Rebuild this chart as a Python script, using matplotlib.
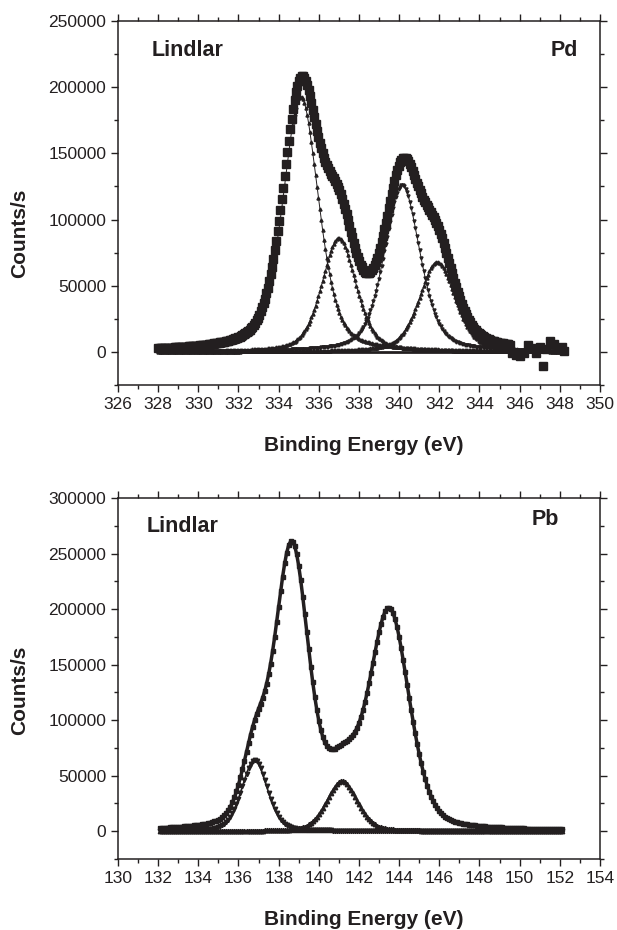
import numpy as np
import matplotlib
matplotlib.use("Agg")
import matplotlib.pyplot as plt
from matplotlib.ticker import MultipleLocator

plt.rcParams['font.family'] = ['Liberation Sans', 'DejaVu Sans']

# Pd 3d fit components (binding energy eV, peak counts/s, FWHM eV)
pd_center = [335.1, 337.0, 340.15, 341.9]
pd_height = [193000, 86000, 126000, 68000]
pd_fwhm = [2.1, 2.0, 2.1, 2.1]
pd_lmix = 0.42
pd_markers = ['^', '^', 'v', '^']
# noisy high-BE end of the measured Pd spectrum
pd_tail_be = [345.6, 345.8, 346.0, 346.2, 346.4, 346.6, 346.8, 347.0, 347.15, 347.3, 347.5, 347.7, 347.9, 348.1, 348.2]
pd_tail_counts = [-1000, -2500, -3000, -1000, 5000, 3000, -500, 4000, -11000, 2000, 8500, 6000, 3000, 4000, 500]

# Pb 4f fit components
pb_center = [138.65, 143.5, 136.8, 141.15]
pb_height = [253000, 196000, 64000, 45000]
pb_fwhm = [2.0, 2.35, 1.5, 1.8]
pb_lmix = 0.3
pb_shown = [False, False, True, True]
pb_markers = ['', '', 'v', '^']

INK = '#231f20'


def pvoigt(x, c, h, w, mix):
    r = (x - c) / (w / 2.0)
    return h * ((1 - mix) * np.exp(-np.log(2) * r ** 2) + mix / (1 + r ** 2))


def style_axes(ax, xlim, ylim, ymax_tick):
    ax.set_xlim(*xlim)
    ax.set_ylim(*ylim)
    ax.xaxis.set_major_locator(MultipleLocator(2))
    ax.xaxis.set_minor_locator(MultipleLocator(1))
    ax.set_yticks(np.arange(0, ymax_tick + 1, 50000))
    ax.yaxis.set_minor_locator(MultipleLocator(25000))
    ax.tick_params(which='both', direction='out', top=True, right=True,
                   labelsize=12.5, colors=INK, width=1.0)
    ax.tick_params(which='major', length=5)
    ax.tick_params(which='minor', length=3)
    for s in ax.spines.values():
        s.set_linewidth(1.1)
        s.set_color(INK)


fig = plt.figure(figsize=(6.17, 9.30), dpi=100)
ax1 = fig.add_axes([0.1912, 0.586, 0.7812, 0.3914])
ax2 = fig.add_axes([0.1912, 0.0763, 0.7812, 0.3882])

# --- Pd panel ---
be = np.arange(328.0, 348.03, 0.07)
comps = [pvoigt(be, c, h, w, pd_lmix) for c, h, w in zip(pd_center, pd_height, pd_fwhm)]
total = np.sum(comps, axis=0)
meas = be < 345.55
ax1.plot(be[meas], total[meas], 's', ms=5.8, color=INK, zorder=4)
ax1.plot(pd_tail_be, pd_tail_counts, 's', ms=5.8, color=INK, zorder=4)
for y, m in zip(comps, pd_markers):
    ax1.plot(be, y, '-', marker=m, ms=2.2, lw=0.7, color=INK, zorder=3)
ax1.plot(be, np.zeros_like(be), '-', lw=2.0, color=INK, zorder=2)
style_axes(ax1, (326, 350), (-25000, 250000), 250000)
ax1.text(0.07, 0.905, 'Lindlar', transform=ax1.transAxes, fontsize=15.5,
         fontweight='bold', color=INK)
ax1.text(0.955, 0.905, 'Pd', transform=ax1.transAxes, fontsize=15.5,
         fontweight='bold', color=INK, ha='right')

# --- Pb panel ---
be2 = np.arange(132.1, 152.15, 0.1)
comps2 = [pvoigt(be2, c, h, w, pb_lmix) for c, h, w in zip(pb_center, pb_height, pb_fwhm)]
total2 = np.sum(comps2, axis=0)
ax2.plot(be2, total2, '-', marker='s', ms=3.2, lw=2.5, color=INK, zorder=4)
for y, shown, m in zip(comps2, pb_shown, pb_markers):
    if shown:
        ax2.plot(be2, y, '-', marker=m, ms=3.2, lw=1.2, color=INK, zorder=3)
ax2.plot(be2, np.zeros_like(be2), '-', lw=2.5, color=INK, zorder=2)
style_axes(ax2, (130, 154), (-25000, 300000), 300000)
ax2.text(0.06, 0.905, 'Lindlar', transform=ax2.transAxes, fontsize=15.5,
         fontweight='bold', color=INK)
ax2.text(0.915, 0.925, 'Pb', transform=ax2.transAxes, fontsize=15.5,
         fontweight='bold', color=INK, ha='right')

# axis titles
fig.text(0.590, 0.5215, 'Binding Energy (eV)', ha='center', va='center',
         fontsize=15, fontweight='bold', color=INK)
fig.text(0.590, 0.0108, 'Binding Energy (eV)', ha='center', va='center',
         fontsize=15, fontweight='bold', color=INK)
fig.text(0.0324, 0.7495, 'Counts/s', ha='center', va='center', rotation=90,
         fontsize=15, fontweight='bold', color=INK)
fig.text(0.0324, 0.258, 'Counts/s', ha='center', va='center', rotation=90,
         fontsize=15, fontweight='bold', color=INK)

fig.savefig('out.png', dpi=100)
